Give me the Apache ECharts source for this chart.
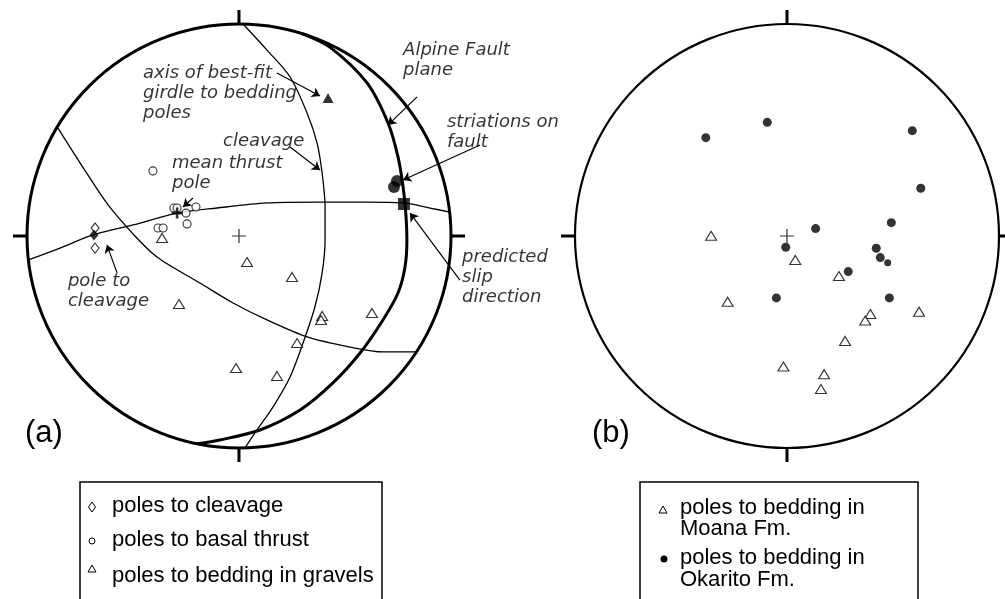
<!DOCTYPE html>
<html><head><meta charset="utf-8">
<script src="https://cdn.jsdelivr.net/npm/echarts@6/dist/echarts.min.js"></script>
<style>html,body{margin:0;padding:0;background:#fff}#c{width:1005px;height:599px}</style>
</head><body><div id="c"></div>
<script>
// ---- Data (normalised stereonet coordinates: x east, y north, primitive radius = 1) ----
// Panel (a)
const cleavagePolesA   = [[-0.679, 0.038], [-0.679, -0.057]];
const meanCleavagePoleA = [[-0.684, 0.005]];
const thrustPolesA = [[-0.406, 0.307], [-0.307, 0.132], [-0.292, 0.132], [-0.250, 0.108],
                      [-0.203, 0.137], [-0.245, 0.057], [-0.382, 0.038], [-0.358, 0.038]];
const meanThrustPoleA = [[-0.292, 0.108]];
const beddingPolesA = [[-0.363, -0.009], [0.038, -0.123], [0.250, -0.193], [-0.283, -0.321],
                       [0.392, -0.377], [0.387, -0.396], [0.627, -0.363], [0.274, -0.505],
                       [-0.014, -0.623], [0.179, -0.660]];
const girdleAxisA = [[0.420, 0.651]];
const striationsA = [[0.745, 0.259], [0.731, 0.231]];
const slipDirectionA = [[0.778, 0.151]];
const alpineFaultA = [[0.300, 0.954], [0.430, 0.890], [0.604, 0.722], [0.703, 0.533], [0.750, 0.373],
                      [0.774, 0.231], [0.788, 0.090], [0.792, -0.019], [0.783, -0.146], [0.750, -0.269],
                      [0.679, -0.396], [0.571, -0.552], [0.443, -0.693], [0.288, -0.821], [0.099, -0.915],
                      [-0.090, -0.962], [-0.198, -0.980]];
const cleavagePlaneA = [[0.019, 1.0], [0.132, 0.877], [0.241, 0.750], [0.321, 0.580], [0.368, 0.439],
                        [0.392, 0.297], [0.406, 0.137], [0.406, -0.019], [0.392, -0.175], [0.358, -0.335],
                        [0.302, -0.505], [0.241, -0.665], [0.160, -0.807], [0.085, -0.915], [0.028, -1.0]];
const girdleA = [[-0.994, -0.113], [-0.844, -0.057], [-0.689, 0.005], [-0.500, 0.052], [-0.292, 0.108],
                 [-0.104, 0.132], [0.132, 0.156], [0.368, 0.160], [0.604, 0.160], [0.774, 0.156],
                 [0.901, 0.132], [0.994, 0.113]];
const thrustPlaneA = [[-0.854, 0.509], [-0.740, 0.330], [-0.620, 0.150], [-0.500, 0.010], [-0.387, -0.099],
                      [-0.184, -0.222], [-0.028, -0.316], [0.132, -0.396], [0.321, -0.476], [0.524, -0.524],
                      [0.679, -0.547], [0.840, -0.547]];
const annotationsA = [
  [-0.453, 0.816, 'axis of best-fit\ngirdle to bedding\npoles'],
  [-0.075, 0.495, 'cleavage'],
  [-0.316, 0.392, 'mean thrust\npole'],
  [-0.807, -0.165, 'pole to\ncleavage'],
  [0.774, 0.925, 'Alpine Fault\nplane'],
  [0.981, 0.585, 'striations on\nfault'],
  [1.052, -0.052, 'predicted\nslip\ndirection']
];
const arrowsA = [
  [0.179, 0.769, 0.382, 0.660],
  [0.840, 0.656, 0.703, 0.524],
  [1.137, 0.429, 0.774, 0.264],
  [0.241, 0.420, 0.382, 0.311],
  [-0.217, 0.179, -0.264, 0.137],
  [-0.575, -0.175, -0.623, -0.042],
  [1.042, -0.208, 0.807, 0.108]
];
// Panel (b)
const moanaPolesB = [[-0.358, 0.001], [0.039, -0.113], [0.245, -0.189], [-0.280, -0.310], [0.393, -0.368],
                     [0.369, -0.399], [0.623, -0.357], [0.274, -0.495], [-0.017, -0.616], [0.175, -0.652],
                     [0.160, -0.722]];
const okaritoPolesB = [[-0.383, 0.464], [-0.093, 0.536], [0.591, 0.497], [0.631, 0.225], [0.492, 0.063],
                       [0.135, 0.035], [-0.006, -0.053], [0.421, -0.058], [0.440, -0.102], [0.289, -0.168],
                       [-0.050, -0.292], [0.483, -0.292]];
const okaritoSmallB = [[0.475, -0.126]];
const centreMark = [[0, 0]];
const legendA = ['poles to cleavage', 'poles to basal thrust', 'poles to bedding in gravels'];
const legendB = ['poles to bedding in\nMoana Fm.', 'poles to bedding in\nOkarito Fm.'];
const panelLabels = ['(a)', '(b)'];

// ---- Layout ----
const R = 212, CY = 236, CXA = 239, CXB = 787, EXT = 1.2;
const gridFor = cx => ({left: cx - R * EXT, top: CY - R * EXT, width: 2 * R * EXT, height: 2 * R * EXT,
                        outerBoundsMode: 'none', containLabel: false});
const axisBase = {type: 'value', min: -EXT, max: EXT, show: false};
const cross = 'path://M-0.6,-7H0.6V-0.6H7V0.6H0.6V7H-0.6V0.6H-7V-0.6H-0.6Z';
const boldCross = 'path://M-1.3,-5.5H1.3V-1.3H5.5V1.3H1.3V5.5H-1.3V1.3H-5.5V-1.3H-1.3Z';
const openStyle = {color: '#fff', borderColor: '#000', borderWidth: 1.1};
const fill = {color: '#000'};

function pts(gi, data, symbol, size, style, z) {
  return {type: 'scatter', xAxisIndex: gi, yAxisIndex: gi, data: data, symbol: symbol,
          symbolSize: size, itemStyle: style, z: z || 5, silent: true};
}
function curve(gi, data, width, z) {
  return {type: 'line', xAxisIndex: gi, yAxisIndex: gi, data: data, smooth: 0.3, showSymbol: false,
          symbol: 'none', lineStyle: {color: '#000', width: width}, z: z || 3, silent: true};
}
const angleAxisFor = (i, w) => ({polarIndex: i, type: 'value', min: 0, max: 360, interval: 90, startAngle: 90,
  axisLine: {lineStyle: {color: '#000', width: w}},
  axisTick: {length: 14, lineStyle: {color: '#000', width: 3}},
  axisLabel: {show: false}, splitLine: {show: false}, silent: true});

const annFont = {fontFamily: 'DejaVu Sans', fontStyle: 'italic', fontSize: 18, lineHeight: 20, color: '#000'};
const legFont = '22px "Liberation Sans"';

const option = {
  animation: false,
  backgroundColor: '#fff',
  grid: [gridFor(CXA), gridFor(CXB)],
  xAxis: [Object.assign({gridIndex: 0}, axisBase), Object.assign({gridIndex: 1}, axisBase)],
  yAxis: [Object.assign({gridIndex: 0}, axisBase), Object.assign({gridIndex: 1}, axisBase)],
  polar: [{center: [CXA, CY], radius: R}, {center: [CXB, CY], radius: R}],
  angleAxis: [angleAxisFor(0, 3), angleAxisFor(1, 2.2)],
  radiusAxis: [{polarIndex: 0, show: false}, {polarIndex: 1, show: false}],
  series: [
    curve(0, alpineFaultA, 3),
    curve(0, cleavagePlaneA, 1.3),
    curve(0, girdleA, 1.3),
    curve(0, thrustPlaneA, 1.3),
    pts(0, centreMark, cross, 14, fill),
    pts(1, centreMark, cross, 14, fill),
    pts(0, cleavagePolesA, 'diamond', [8, 10], openStyle),
    pts(0, meanCleavagePoleA, 'diamond', [9, 11], fill, 6),
    pts(0, thrustPolesA, 'circle', 8, openStyle),
    pts(0, meanThrustPoleA, boldCross, 11, fill, 6),
    pts(0, beddingPolesA, 'triangle', [11, 9], openStyle),
    pts(0, girdleAxisA, 'triangle', [11, 10], fill),
    pts(0, striationsA, 'circle', 12, fill),
    pts(0, slipDirectionA, 'rect', 12, fill),
    pts(1, moanaPolesB, 'triangle', [11, 9], openStyle),
    pts(1, okaritoPolesB, 'circle', 9, fill),
    pts(1, okaritoSmallB, 'circle', 7, fill),
    {
      type: 'scatter', xAxisIndex: 0, yAxisIndex: 0, silent: true, symbolSize: 0, z: 8,
      data: annotationsA.map(a => ({value: [a[0], a[1]], name: a[2]})),
      label: Object.assign({show: true, position: [0, 0], align: 'left', verticalAlign: 'top',
                            formatter: '{b}'}, annFont),
      markLine: {
        silent: true, symbol: ['none', 'arrow'], symbolSize: 8, precision: 4,
        label: {show: false}, lineStyle: {color: '#000', width: 1.2, type: 'solid'},
        emphasis: {disabled: true},
        data: arrowsA.map(a => [{coord: [a[0], a[1]]}, {coord: [a[2], a[3]]}])
      }
    }
  ],
  graphic: [
    {type: 'text', left: 25, top: 418, style: {text: panelLabels[0], font: '31px "Liberation Sans"', fill: '#000'}},
    {type: 'text', left: 592, top: 418, style: {text: panelLabels[1], font: '31px "Liberation Sans"', fill: '#000'}},
    // legend box (a)
    {type: 'rect', shape: {x: 80, y: 482, width: 302, height: 140}, style: {fill: 'none', stroke: '#000', lineWidth: 1.5}},
    {type: 'polygon', shape: {points: [[92, 502], [95.5, 507], [92, 512], [88.5, 507]]}, style: {fill: '#fff', stroke: '#000', lineWidth: 1}},
    {type: 'circle', shape: {cx: 92, cy: 541, r: 3}, style: {fill: '#fff', stroke: '#000', lineWidth: 1}},
    {type: 'polygon', shape: {points: [[92, 565], [96, 572], [88, 572]]}, style: {fill: '#fff', stroke: '#000', lineWidth: 1}},
    {type: 'text', x: 112, y: 506, style: {text: legendA[0], font: legFont, fill: '#000', textVerticalAlign: 'middle'}},
    {type: 'text', x: 112, y: 540, style: {text: legendA[1], font: legFont, fill: '#000', textVerticalAlign: 'middle'}},
    {type: 'text', x: 112, y: 576, style: {text: legendA[2], font: legFont, fill: '#000', textVerticalAlign: 'middle'}},
    // legend box (b)
    {type: 'rect', shape: {x: 640, y: 482, width: 278, height: 140}, style: {fill: 'none', stroke: '#000', lineWidth: 1.5}},
    {type: 'polygon', shape: {points: [[663, 506], [667, 513], [659, 513]]}, style: {fill: '#fff', stroke: '#000', lineWidth: 1}},
    {type: 'circle', shape: {cx: 664, cy: 559, r: 3.5}, style: {fill: '#000'}},
    {type: 'text', x: 680, y: 497, style: {text: legendB[0], font: legFont, lineHeight: 21, fill: '#000'}},
    {type: 'text', x: 680, y: 547, style: {text: legendB[1], font: legFont, lineHeight: 22, fill: '#000'}}
  ]
};
const chart = echarts.init(document.getElementById('c'), null, {renderer: 'canvas'});
chart.setOption(option);
</script></body></html>
